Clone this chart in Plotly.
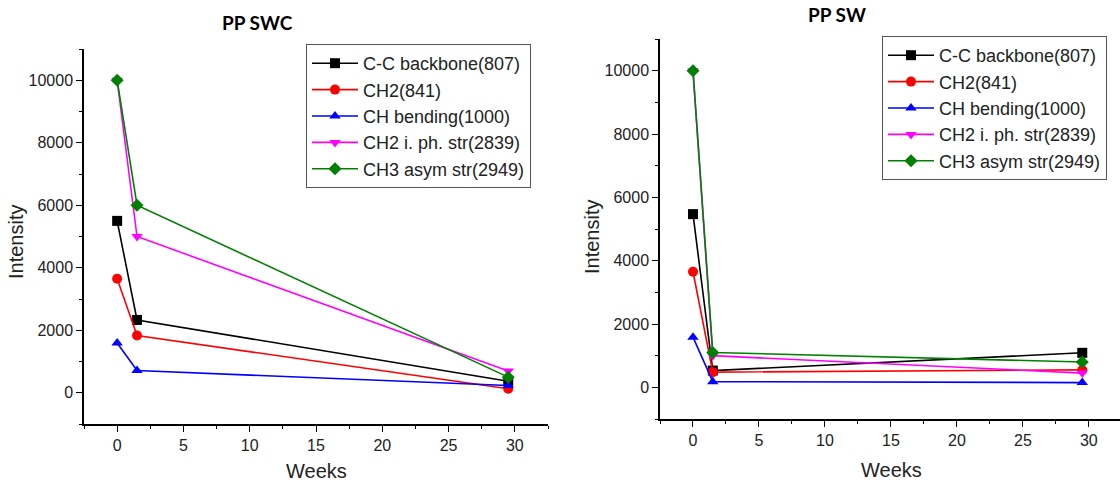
import plotly.graph_objects as go

weeks = [0, 1.5, 29.5]
series_names = ["C-C backbone(807)", "CH2(841)", "CH bending(1000)",
                "CH2 i. ph. str(2839)", "CH3 asym str(2949)"]
colors = ["#000000", "#FF0000", "#0000FF", "#FF00FF", "#008000"]
symbols = ["square", "circle", "triangle-up", "triangle-down", "diamond"]

# PP SWC (left)
swc_cc = [5500, 2330, 370]
swc_ch2 = [3650, 1830, 130]
swc_chb = [1590, 710, 230]
swc_ch2s = [10000, 5000, 700]
swc_ch3 = [10000, 6000, 500]

# PP SW (right)
sw_cc = [5470, 530, 1090]
sw_ch2 = [3650, 480, 550]
sw_chb = [1585, 180, 150]
sw_ch2s = [10000, 1000, 450]
sw_ch3 = [10000, 1100, 800]

swc = [swc_cc, swc_ch2, swc_chb, swc_ch2s, swc_ch3]
sw = [sw_cc, sw_ch2, sw_chb, sw_ch2s, sw_ch3]

W, H = 1120, 487
FONT = "Liberation Sans, Arial, sans-serif"

fig = go.Figure()
for i in range(5):
    fig.add_trace(go.Scatter(
        x=weeks, y=swc[i], mode="lines+markers", name=series_names[i],
        line=dict(color=colors[i], width=1.6),
        marker=dict(symbol=symbols[i], size=10, color=colors[i]),
        xaxis="x", yaxis="y", legend="legend"))
for i in range(5):
    fig.add_trace(go.Scatter(
        x=weeks, y=sw[i], mode="lines+markers", name=series_names[i],
        line=dict(color=colors[i], width=1.6),
        marker=dict(symbol=symbols[i], size=10, color=colors[i]),
        xaxis="x2", yaxis="y2", legend="legend2"))

def px_x(p):
    return p / W

def px_y(p):
    return 1 - p / H

axis_common = dict(
    showgrid=False, zeroline=False, showline=True, linecolor="#000000",
    linewidth=1.5, ticks="outside", ticklen=6, tickwidth=1.3, tickcolor="#000000",
    tickfont=dict(family=FONT, size=16, color="#222222"),
)
minor_x = dict(dtick=2.5, tick0=0, ticks="outside", ticklen=3,
               tickcolor="#000000", tickwidth=1.2)
minor_y = dict(dtick=1000, tick0=0, ticks="outside", ticklen=3,
               tickcolor="#000000", tickwidth=1.2)

legend_common = dict(
    xanchor="left", yanchor="top", bgcolor="white", bordercolor="#555555",
    borderwidth=1, font=dict(family=FONT, size=18, color="#222222"),
    tracegroupgap=0, itemwidth=46,
)

fig.update_layout(
    width=W, height=H,
    margin=dict(l=0, r=0, t=0, b=0),
    paper_bgcolor="white", plot_bgcolor="white",
    font=dict(family=FONT, color="#222222"),
    xaxis=dict(domain=[px_x(84), px_x(548)], range=[-2.5, 32.5], dtick=5, tick0=0,
               minor=minor_x, anchor="y", **axis_common),
    yaxis=dict(domain=[px_y(424), px_y(49)], range=[-1000, 11000], dtick=2000, tick0=0,
               tickformat="d", minor=minor_y, anchor="x", **axis_common),
    xaxis2=dict(domain=[px_x(660), 1.0], range=[-2.5, 32.36], dtick=5, tick0=0,
                minor=minor_x, anchor="y2", **axis_common),
    yaxis2=dict(domain=[px_y(419), px_y(39)], range=[-1000, 11000], dtick=2000, tick0=0,
                tickformat="d", minor=minor_y, anchor="x2", **axis_common),
    legend=dict(x=px_x(306), y=px_y(44), **legend_common),
    legend2=dict(x=px_x(882), y=px_y(36), **legend_common),
    showlegend=True,
)

annots = [
    dict(text="<b>PP SWC</b>", x=px_x(257), y=px_y(23),
         font=dict(family="Lato, sans-serif", size=19, color="#000000")),
    dict(text="<b>PP SW</b>", x=px_x(837), y=px_y(15),
         font=dict(family="Lato, sans-serif", size=19, color="#000000")),
    dict(text="Intensity", x=px_x(16), y=px_y(242), textangle=-90,
         font=dict(family=FONT, size=20, color="#222222")),
    dict(text="Intensity", x=px_x(592), y=px_y(237), textangle=-90,
         font=dict(family=FONT, size=20, color="#222222")),
    dict(text="Weeks", x=px_x(316), y=px_y(471),
         font=dict(family=FONT, size=20, color="#222222")),
    dict(text="Weeks", x=px_x(891), y=px_y(470),
         font=dict(family=FONT, size=20, color="#222222")),
]
for a in annots:
    fig.add_annotation(xref="paper", yref="paper", showarrow=False,
                       xanchor="center", yanchor="middle", **a)

fig.write_html("out.html")
